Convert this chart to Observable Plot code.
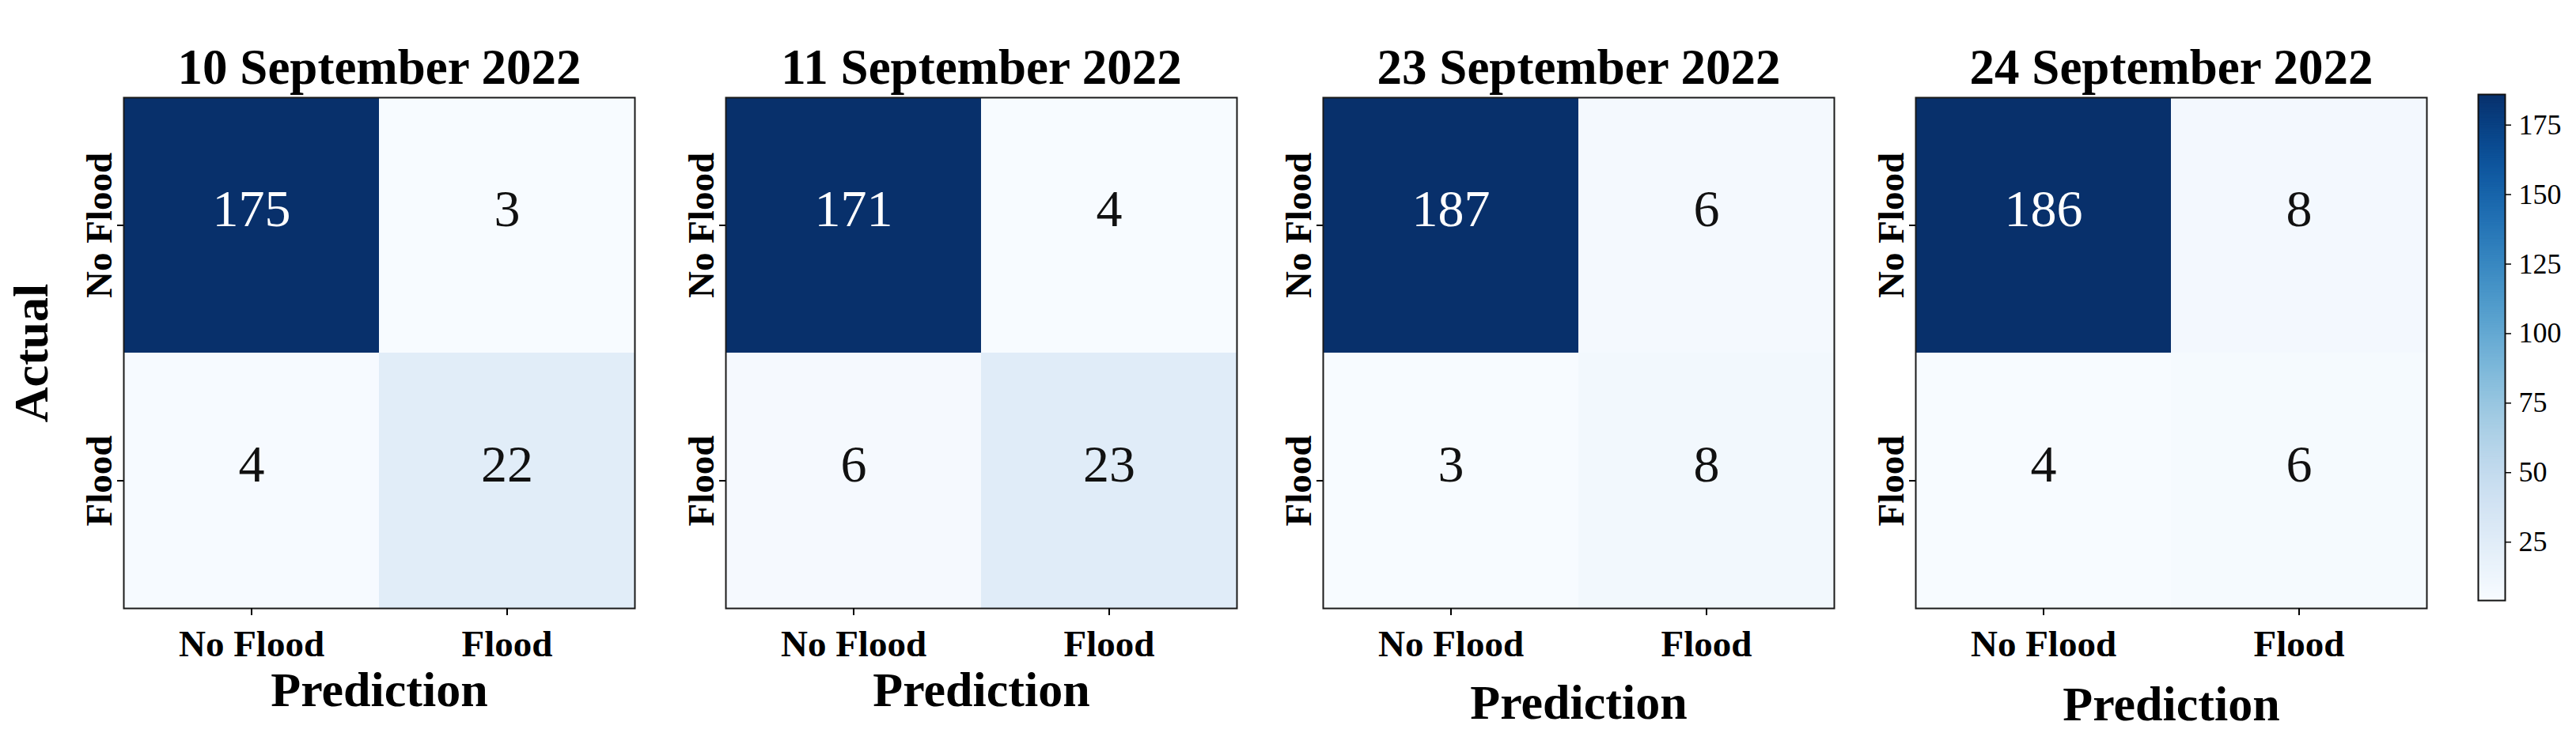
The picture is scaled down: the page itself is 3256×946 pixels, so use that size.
<!DOCTYPE html>
<html>
<head>
<meta charset="utf-8">
<script src="https://cdn.jsdelivr.net/npm/d3@7"></script>
<script src="https://cdn.jsdelivr.net/npm/@observablehq/plot@0.6"></script>
<style>
  html, body { margin: 0; padding: 0; background: #fff; }
  #root { position: relative; width: 3256px; height: 946px; overflow: hidden; background: #fff; }
  #root > div { position: absolute; top: 0; }
  svg { overflow: visible; }
</style>
</head>
<body>
<div id="root"></div>
<script>
// ---- data ----
const titles = ["10 September 2022", "11 September 2022", "23 September 2022", "24 September 2022"];
const classes = ["No Flood", "Flood"];
// row-major: [actual No Flood -> pred No Flood, pred Flood, actual Flood -> pred No Flood, pred Flood]
const sep10 = [175, 3, 4, 22];
const sep11 = [171, 4, 6, 23];
const sep23 = [187, 6, 3, 8];
const sep24 = [186, 8, 4, 6];
const colorbarTicks = [25, 50, 75, 100, 125, 150, 175];
const colorbarDomain = [4, 186];
const axisLabelX = "Prediction";
const axisLabelY = "Actual";

// ---- layout ----
const FONT = "'Liberation Serif', 'Times New Roman', Times, serif";
const frameLefts = [156, 917, 1672, 2421];
const predDy = [123, 123, 139, 141];
const ML = 156, MR = 20, MT = 123, MB = 946 - 769, W = 646;
const root = document.getElementById("root");

function panel(i, values) {
  const data = [];
  classes.forEach((a, r) => classes.forEach((p, c) =>
    data.push({actual: a, pred: p, value: values[r * 2 + c]})));
  const lo = d3.min(values), hi = d3.max(values), mid = (lo + hi) / 2;
  const marks = [
    Plot.cell(data, {x: "pred", y: "actual", fill: "value"}),
    Plot.frame({stroke: "#1a1a1a", strokeWidth: 2}),
    Plot.axisX({tickSize: 9, tickPadding: 18, fontSize: 47, fontWeight: "bold", label: null, strokeWidth: 2}),
    Plot.axisY({tickSize: 8, fill: "none", label: null, strokeWidth: 2, tickFormat: () => ""}),
    Plot.text(classes, {y: d => d, text: d => d, frameAnchor: "left", rotate: -90, dx: -16,
      lineAnchor: "bottom", textAnchor: "middle", fontSize: 47, fontWeight: "bold", fill: "black"}),
    Plot.text(data.filter(d => d.value > mid), {x: "pred", y: "actual", text: d => String(d.value),
      fill: "white", fontSize: 66, dy: -20}),
    Plot.text(data.filter(d => d.value <= mid), {x: "pred", y: "actual", text: d => String(d.value),
      fill: "#111", fontSize: 66, dy: -20}),
    Plot.text([titles[i]], {text: d => d, frameAnchor: "top", dy: -38, fontSize: 63, fontWeight: "bold",
      lineAnchor: "middle", fill: "black"}),
    Plot.text([axisLabelX], {text: d => d, frameAnchor: "bottom", dy: predDy[i], lineAnchor: "bottom",
      fontSize: 62, fontWeight: "bold", fill: "black"})
  ];
  if (i === 0) {
    marks.push(Plot.text([axisLabelY], {text: d => d, frameAnchor: "left", dx: -97, rotate: -90,
      lineAnchor: "bottom", textAnchor: "middle", fontSize: 62, fontWeight: "bold", fill: "black"}));
  }
  return Plot.plot({
    width: ML + W + MR, height: 946,
    marginLeft: ML, marginRight: MR, marginTop: MT, marginBottom: MB,
    style: {fontFamily: FONT, background: "transparent", overflow: "visible", color: "black"},
    x: {domain: classes, padding: 0},
    y: {domain: classes, padding: 0},
    color: {type: "linear", scheme: "blues", domain: [lo, hi]},
    marks
  });
}

[sep10, sep11, sep23, sep24].forEach((vals, i) => {
  const div = document.createElement("div");
  div.style.left = (frameLefts[i] - ML) + "px";
  div.appendChild(panel(i, vals));
  root.appendChild(div);
});

// ---- colorbar ----
const cbLeft = 3132, cbW = 34, cbTop = 119, cbBottom = 759, cbML = 40, cbMR = 90;
const step = 0.5;
const ramp = d3.range(colorbarDomain[0], colorbarDomain[1], step);
const cb = Plot.plot({
  width: cbML + cbW + cbMR, height: 946,
  marginLeft: cbML, marginRight: cbMR, marginTop: cbTop, marginBottom: 946 - cbBottom,
  style: {fontFamily: FONT, background: "transparent", overflow: "visible", color: "black"},
  x: {domain: [0, 1], axis: null},
  y: {domain: colorbarDomain, axis: null},
  color: {type: "linear", scheme: "blues", domain: colorbarDomain},
  marks: [
    Plot.rect(ramp, {x1: 0, x2: 1, y1: d => d, y2: d => Math.min(d + step * 1.5, colorbarDomain[1]), fill: d => d}),
    Plot.frame({stroke: "#111", strokeWidth: 2}),
    Plot.axisY(colorbarTicks, {anchor: "right", tickSize: 7, tickPadding: 10, fontSize: 36, label: null, strokeWidth: 1.5})
  ]
});
const cbDiv = document.createElement("div");
cbDiv.style.left = (cbLeft - cbML) + "px";
cbDiv.appendChild(cb);
root.appendChild(cbDiv);
</script>
</body>
</html>
